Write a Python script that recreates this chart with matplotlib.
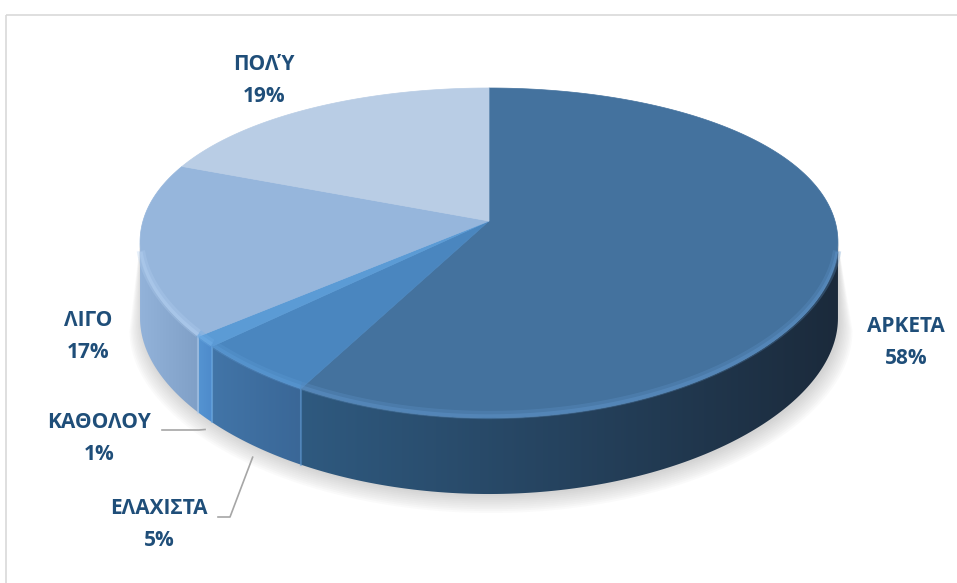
import numpy as np
import matplotlib
matplotlib.use("Agg")
import matplotlib.pyplot as plt
from matplotlib.patches import Polygon, Rectangle
from matplotlib.colors import LinearSegmentedColormap

# data (clockwise from 12 o'clock)
labels = ['ΑΡΚΕΤΑ', 'ΕΛΑΧΙΣΤΑ', 'ΚΑΘΟΛΟΥ', 'ΛΙΓΟ', 'ΠΟΛΎ']
values = [58, 5, 1, 17, 19]
pct_text = ['58%', '5%', '1%', '17%', '19%']

top_colors = ['#44729E', '#4A86BF', '#5B9BD5', '#96B6DC', '#B9CDE5']
wall_colors = [('#2F5A80', '#1B2A3B'), ('#4275A8', '#3A6797'), ('#5595D2', '#4E8ACB'),
               ('#93B3DA', '#7F9FC6'), ('#A9C0DC', '#9DB4D2')]
rim_colors = ['#5E93C8', '#5C9AD6', '#6FAEE8', '#B2CFF0', '#C8DAEE']
label_color = '#1F4E79'

# label placement (pixels, centre of text)
label_pos = {'ΑΡΚΕΤΑ': (906, 326), 'ΕΛΑΧΙΣΤΑ': (159, 508), 'ΚΑΘΟΛΟΥ': (99, 422),
             'ΛΙΓΟ': (88, 320), 'ΠΟΛΎ': (264, 64)}
LINE_GAP = 33

# 3d pie projection
CX, CY = 489, 221
A, K = 346, 158.8
CH, CV = 0.13, 0.194
DEPTH = 76


def proj(theta, depth=0.0):
    t = np.radians(theta)
    X = np.sin(t)
    Z = np.cos(t)
    x = CX + A * X / (1 + CH * Z)
    y = CY - K * Z / (1 + CV * Z) + depth
    return x, y


fig = plt.figure(figsize=(9.57, 5.83), dpi=100)
ax = fig.add_axes([0, 0, 1, 1])

# chart frame
ax.add_patch(Rectangle((5.5, 14.5), 1000, 1000, fill=False, edgecolor='#D9D9D9', lw=1.2, zorder=0))

total = float(sum(values))
bounds = np.concatenate([[0], np.cumsum(values) / total * 360])

# silhouette limits of the side wall
t_left = np.degrees(np.arccos(-CH))
vis_lo, vis_hi = t_left, 360 - t_left

# soft shadow
th = np.linspace(vis_lo, vis_hi, 200)
bx, by = proj(th, DEPTH)
for i in range(10):
    g = 1 + i * 0.004
    sx = CX + (bx - CX) * g + 2
    sy = CY + (by - CY) * g + 2 + i * 0.8
    tx, ty = proj(th[::-1])
    poly = Polygon(np.column_stack([np.r_[sx, tx], np.r_[sy, ty]]), closed=True,
                   facecolor='#808080', edgecolor='none', alpha=0.035, zorder=1)
    ax.add_patch(poly)

# side walls
for i in range(len(values)):
    a0, a1 = max(bounds[i], vis_lo), min(bounds[i + 1], vis_hi)
    if a1 <= a0:
        continue
    th = np.linspace(a0, a1, 120)
    tx, ty = proj(th)
    bx, by = proj(th[::-1], DEPTH)
    poly = Polygon(np.column_stack([np.r_[tx, bx], np.r_[ty, by]]), closed=True,
                   facecolor='none', edgecolor='none', zorder=2)
    ax.add_patch(poly)
    cmap = LinearSegmentedColormap.from_list('w%d' % i, list(wall_colors[i]))
    x0, x1 = min(tx.min(), bx.min()), max(tx.max(), bx.max())
    grad = np.linspace(0, 1, 256).reshape(1, -1)
    im = ax.imshow(grad, cmap=cmap, extent=(x0 - 1, x1 + 1, by.max() + 2, ty.min() - 2),
                   aspect='auto', zorder=2, interpolation='bicubic')
    im.set_clip_path(poly)
    # seam between walls
    if bounds[i] > vis_lo:
        ax.plot([tx[0], bx[-1]], [ty[0], by[-1]], color=rim_colors[i], lw=1.5, alpha=0.5, zorder=3)

# top faces
for i in range(len(values)):
    th = np.linspace(bounds[i], bounds[i + 1], 200)
    tx, ty = proj(th)
    poly = Polygon(np.column_stack([np.r_[CX, tx], np.r_[CY, ty]]), closed=True,
                   facecolor=top_colors[i], edgecolor=top_colors[i], lw=0.5, zorder=4)
    ax.add_patch(poly)
    # bevel highlight on the front rim
    a0, a1 = max(bounds[i], vis_lo + 4), min(bounds[i + 1], vis_hi - 4)
    if a1 > a0:
        th = np.linspace(a0, a1, 120)
        rx, ry = proj(th, -3)
        ax.plot(rx, ry, color=rim_colors[i], lw=6, alpha=0.3, zorder=5, solid_capstyle='butt')
        ax.plot(rx, ry + 1, color=rim_colors[i], lw=2.5, alpha=0.45, zorder=5, solid_capstyle='butt')

# labels
for i, lab in enumerate(labels):
    x, y = label_pos[lab]
    ax.text(x, y, lab, ha='center', va='center', fontsize=15, fontweight='bold',
            color=label_color, family=['Open Sans', 'DejaVu Sans'], zorder=6)
    ax.text(x, y + LINE_GAP, pct_text[i], ha='center', va='center', fontsize=15,
            fontweight='bold', color=label_color, family=['Open Sans', 'DejaVu Sans'], zorder=6)

# leader lines for the small slices
mid = (bounds[:-1] + bounds[1:]) / 2
ax_, ay_ = proj(mid[2], DEPTH + 12)
ax.plot([162, ax_ - 6, ax_], [430, 430, ay_], color='#A6A6A6', lw=1.2, zorder=6)
ex, ey = proj(mid[1], DEPTH + 12)
ax.plot([218, 230, ex], [517, 517, ey], color='#A6A6A6', lw=1.2, zorder=6)

ax.set_xlim(0, 957)
ax.set_ylim(583, 0)
ax.axis('off')

fig.savefig('out.png', dpi=100)
